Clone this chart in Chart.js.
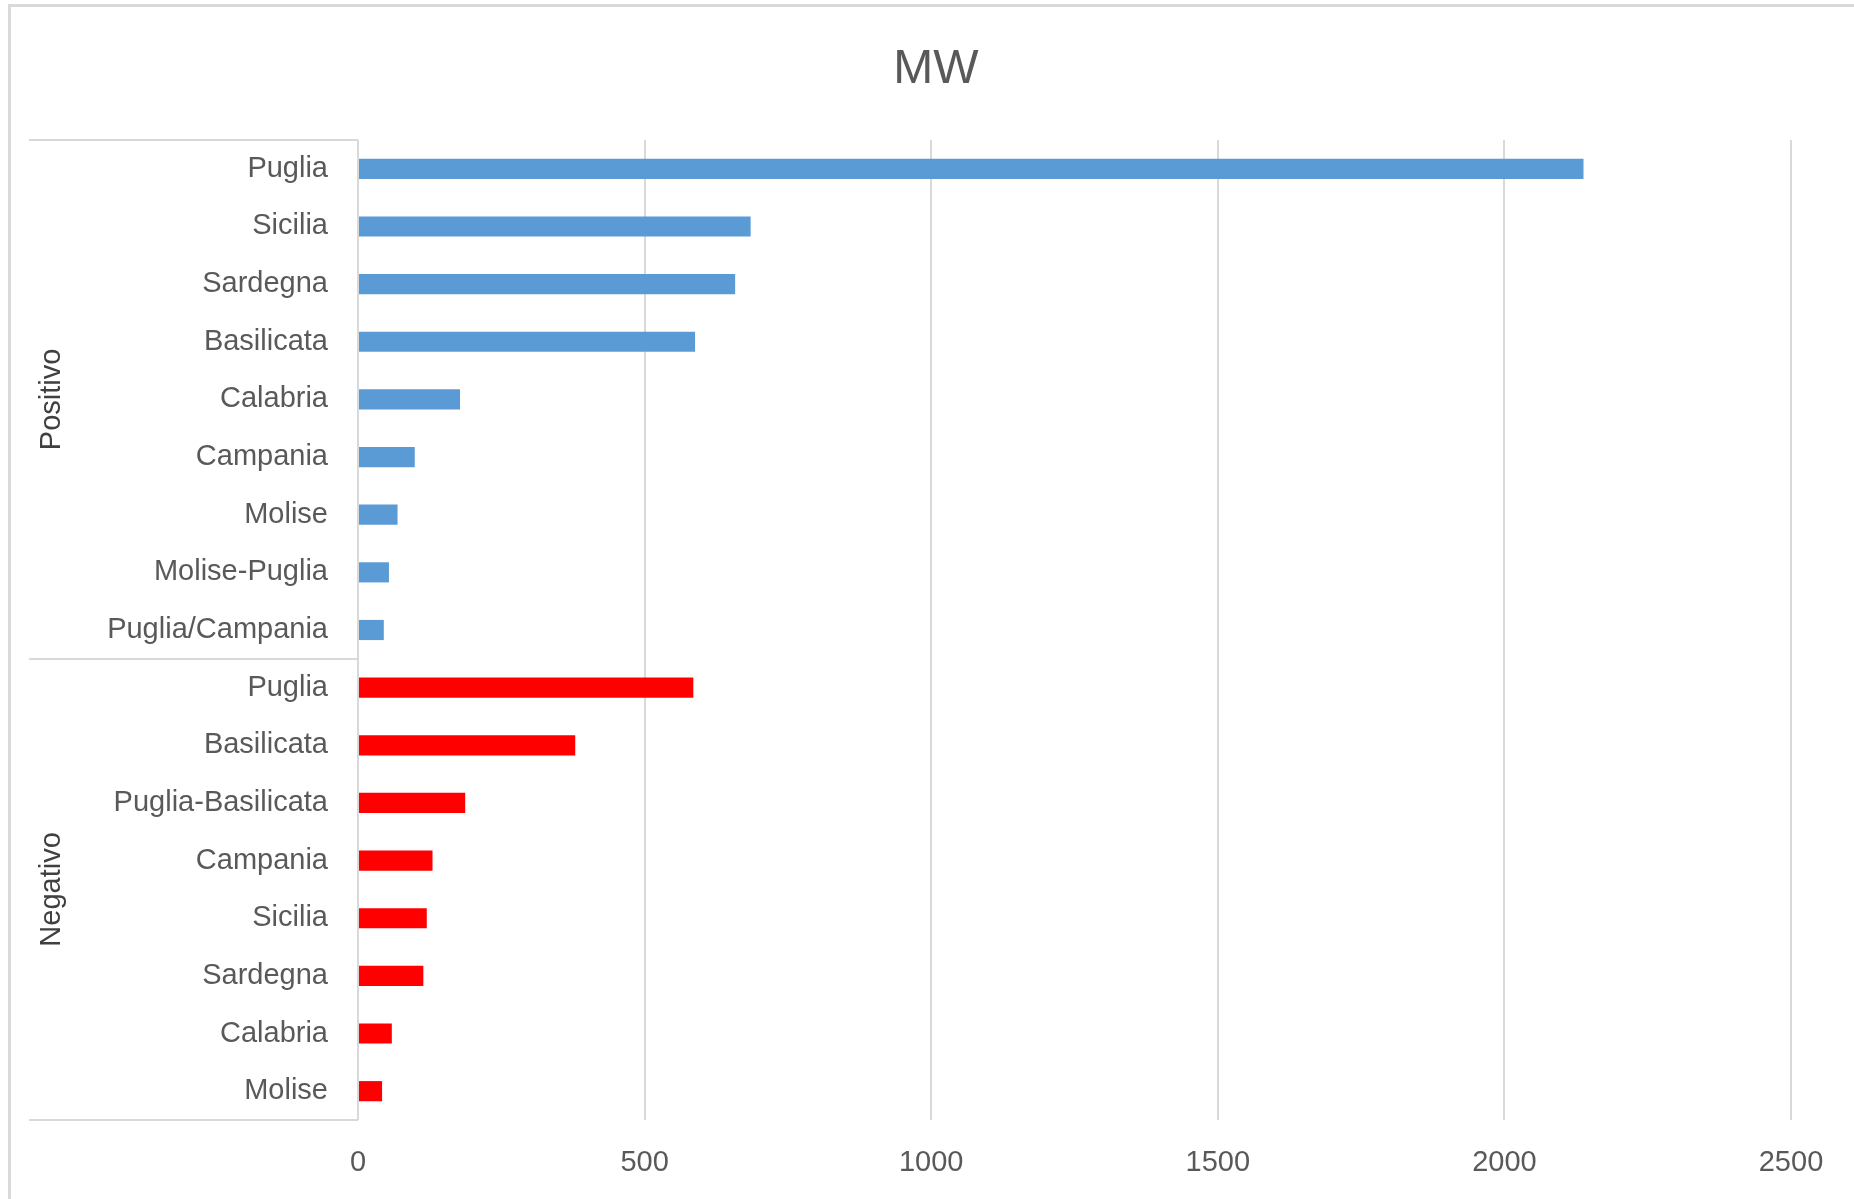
<!DOCTYPE html>
<html>
<head>
<meta charset="utf-8">
<script src="https://cdn.jsdelivr.net/npm/chart.js@4.4.1/dist/chart.umd.min.js"></script>
<style>
html, body { margin: 0; padding: 0; background: #ffffff; overflow: hidden; }
#wrap { position: relative; width: 1854px; height: 1199px; }
canvas { display: block; }
</style>
</head>
<body>
<div id="wrap"><canvas id="c" width="1854" height="1199"></canvas></div>
<script>
// ---- data ----
const chartTitle = 'MW';
const groupNames = ['Positivo', 'Negativo'];
const posLabels = ['Puglia', 'Sicilia', 'Sardegna', 'Basilicata', 'Calabria', 'Campania', 'Molise', 'Molise-Puglia', 'Puglia/Campania'];
const posValues = [2138, 685, 658, 588, 178, 99, 69, 54, 45];
const negLabels = ['Puglia', 'Basilicata', 'Puglia-Basilicata', 'Campania', 'Sicilia', 'Sardegna', 'Calabria', 'Molise'];
const negValues = [585, 379, 187, 130, 120, 114, 59, 42];
const xMin = 0, xMax = 2500, xStep = 500;

// ---- build ----
const allLabels = posLabels.concat(negLabels);
const posData = posValues.concat(negLabels.map(() => null));
const negData = posLabels.map(() => null).concat(negValues);
const groups = [
  { name: groupNames[0], start: 0, end: posLabels.length - 1 },
  { name: groupNames[1], start: posLabels.length, end: allLabels.length - 1 }
];

const FONT = '"Liberation Sans", Arial, sans-serif';
Chart.defaults.font.family = FONT;
Chart.defaults.color = '#595959';

const framePlugin = {
  id: 'frame',
  beforeDraw(chart) {
    const ctx = chart.ctx;
    ctx.save();
    ctx.fillStyle = '#ffffff';
    ctx.fillRect(0, 0, chart.width, chart.height);
    ctx.strokeStyle = '#d9d9d9';
    ctx.lineWidth = 3;
    ctx.strokeRect(9.5, 5.5, chart.width + 100, chart.height + 100);
    ctx.restore();
  }
};

const groupPlugin = {
  id: 'groupAxis',
  afterDraw(chart) {
    const y = chart.scales.y;
    const ctx = chart.ctx;
    const half = (y.getPixelForValue(1) - y.getPixelForValue(0)) / 2;
    const axisX = chart.chartArea.left;
    const lineLeft = 29;
    ctx.save();
    ctx.strokeStyle = '#d9d9d9';
    ctx.lineWidth = 2;
    const bounds = [];
    groups.forEach((g, i) => {
      const top = y.getPixelForValue(g.start) - half;
      const bot = y.getPixelForValue(g.end) + half;
      if (i === 0) bounds.push(top);
      bounds.push(bot);
      ctx.save();
      ctx.translate(52, (top + bot) / 2);
      ctx.rotate(-Math.PI / 2);
      ctx.fillStyle = '#404040';
      ctx.font = '29px ' + FONT;
      ctx.textAlign = 'center';
      ctx.textBaseline = 'middle';
      ctx.fillText(g.name, 0, 0);
      ctx.restore();
    });
    bounds.forEach(b => {
      ctx.beginPath();
      ctx.moveTo(lineLeft, Math.round(b));
      ctx.lineTo(axisX, Math.round(b));
      ctx.stroke();
    });
    ctx.beginPath();
    ctx.moveTo(axisX, bounds[0]);
    ctx.lineTo(axisX, bounds[bounds.length - 1]);
    ctx.stroke();
    ctx.restore();
  }
};

new Chart(document.getElementById('c'), {
  type: 'bar',
  data: {
    labels: allLabels,
    datasets: [
      { label: groupNames[0], data: posData, backgroundColor: '#5B9BD5', borderWidth: 0,
        barPercentage: 0.35, categoryPercentage: 1.0 },
      { label: groupNames[1], data: negData, backgroundColor: '#FF0000', borderWidth: 0,
        barPercentage: 0.35, categoryPercentage: 1.0 }
    ]
  },
  options: {
    indexAxis: 'y',
    responsive: false,
    animation: false,
    devicePixelRatio: 1,
    layout: { padding: { left: 81, right: 63, top: 0, bottom: 0 } },
    plugins: {
      legend: { display: false },
      tooltip: { enabled: false },
      title: {
        display: true,
        text: chartTitle,
        color: '#595959',
        font: { size: 48, weight: 'normal', family: FONT },
        padding: { top: 41, bottom: 41.4 }
      }
    },
    scales: {
      x: {
        type: 'linear',
        position: 'bottom',
        stacked: true,
        min: xMin,
        max: xMax,
        ticks: { stepSize: xStep, color: '#595959', font: { size: 29, family: FONT }, padding: 26,
                 callback: (v) => String(v) },
        grid: { color: '#d9d9d9', lineWidth: 2, drawTicks: false },
        border: { display: false },
        afterFit(scale) { scale.height = 79; }
      },
      y: {
        type: 'category',
        stacked: true,
        ticks: { autoSkip: false, color: '#595959', font: { size: 29, family: FONT }, padding: 30 },
        grid: { display: false, drawTicks: false },
        border: { display: false },
        afterFit(scale) { scale.width = 277; }
      }
    }
  },
  plugins: [framePlugin, groupPlugin]
});
</script>
</body>
</html>
